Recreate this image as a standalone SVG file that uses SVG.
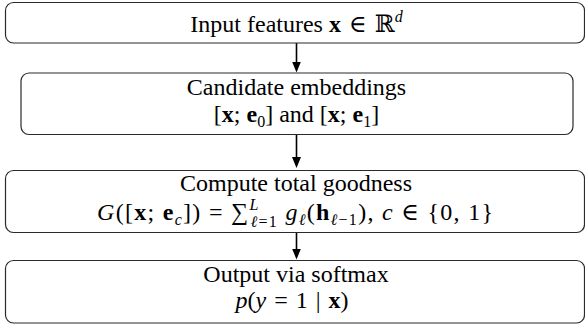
<svg xmlns="http://www.w3.org/2000/svg" width="585" height="327" viewBox="0 0 585 327">
  <style>
    .box { fill: #fff; stroke: #2a2a2a; stroke-width: 1.2; }
    .t { font-family: "Liberation Serif", "Times New Roman", "DejaVu Serif", serif; font-size: 24px; fill: #000; text-anchor: middle; }
    .m { font-style: italic; }
    .b { font-weight: bold; }
    .s { font-size: 16px; }
    .conn { stroke: #000; stroke-width: 1.6; fill: none; }
  </style>
  <defs>
    <marker id="arrow" markerUnits="userSpaceOnUse" markerWidth="12" markerHeight="10" refX="8" refY="4.5" orient="auto">
      <path d="M0,0 L11,4.5 L0,9 Z" fill="#000"/>
    </marker>
  </defs>
  <rect width="585" height="327" fill="#fff"/>

  <g id="connectors">
    <line class="conn" x1="296.5" y1="43" x2="296.5" y2="69.5" marker-end="url(#arrow)"/>
    <line class="conn" x1="296.5" y1="134.5" x2="296.5" y2="165" marker-end="url(#arrow)"/>
    <line class="conn" x1="296.5" y1="232.5" x2="296.5" y2="256.5" marker-end="url(#arrow)"/>
  </g>

  <g id="input">
    <rect class="box" x="5.5" y="2.5" width="579" height="40.5" rx="8"/>
    <text class="t" x="296.5" y="31.5">Input features <tspan class="b">x</tspan>&#8196;∈&#8196;ℝ<tspan class="s m" dy="-10">d</tspan></text>
  </g>

  <g id="candidates">
    <rect class="box" x="21" y="73" width="552" height="61.5" rx="8"/>
    <text class="t" x="296.5" y="94.5">Candidate embeddings</text>
    <text class="t" x="296.5" y="122">[<tspan class="b">x</tspan>; <tspan class="b">e</tspan><tspan class="s" dy="5">0</tspan><tspan dy="-5">] and [</tspan><tspan class="b">x</tspan>; <tspan class="b">e</tspan><tspan class="s" dy="5">1</tspan><tspan dy="-5">]</tspan></text>
  </g>

  <g id="goodness">
    <rect class="box" x="5.5" y="170.5" width="579" height="62" rx="8"/>
    <text class="t" x="296" y="191">Compute total goodness</text>
    <text class="t" x="295" y="219.5" textLength="396" lengthAdjust="spacing"><tspan class="m">G</tspan>([<tspan class="b">x</tspan>; <tspan class="b">e</tspan><tspan class="s m" dy="5">c</tspan><tspan dy="-5">]) = ∑</tspan><tspan class="s m" dy="-10">L</tspan><tspan class="s" dx="-9" dy="17"><tspan class="m">ℓ</tspan>=1</tspan><tspan dy="-7"> </tspan><tspan class="m">g</tspan><tspan class="s m" dy="5">ℓ</tspan><tspan dy="-5">(</tspan><tspan class="b">h</tspan><tspan class="s" dy="5"><tspan class="m">ℓ</tspan>−1</tspan><tspan dy="-5">), </tspan><tspan class="m">c</tspan> ∈ {0, 1}</text>
  </g>

  <g id="output">
    <rect class="box" x="5.5" y="260.5" width="579" height="62.5" rx="8"/>
    <text class="t" x="296" y="281.5">Output via softmax</text>
    <text class="t" x="292" y="308"><tspan class="m">p</tspan>(<tspan class="m">y</tspan>&#8196;=&#8196;1&#8196;|&#8196;<tspan class="b">x</tspan>)</text>
  </g>
</svg>
